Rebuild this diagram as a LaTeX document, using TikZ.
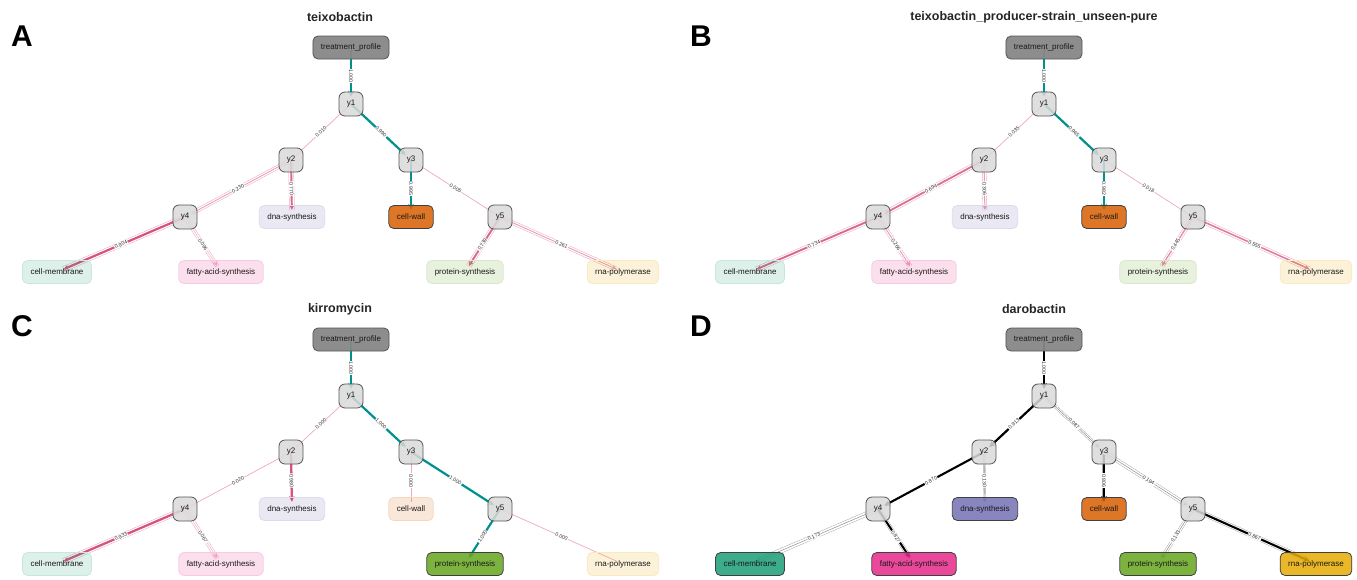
\documentclass[tikz,border=0pt]{standalone}
\usepackage{fontspec}
\setmainfont{Liberation Sans}
\usetikzlibrary{arrows.meta,backgrounds}

\definecolor{tpgray}{HTML}{878787}
\definecolor{ygray}{HTML}{DADADA}
\definecolor{rim}{HTML}{555555}
\definecolor{tealc}{HTML}{00918F}
\definecolor{rose}{HTML}{D0406F}
\definecolor{roselite}{HTML}{EFA9BE}
\definecolor{cmem}{HTML}{1B9E77}
\definecolor{cdna}{HTML}{7570B3}
\definecolor{cwal}{HTML}{D95F02}
\definecolor{cfas}{HTML}{E7298A}
\definecolor{cpro}{HTML}{66A61E}
\definecolor{crna}{HTML}{E6AB02}

\tikzset{
  txt/.style={font=\fontsize{8}{9}\selectfont, text=black!90},
  root/.style={txt, draw=rim, line width=0.8pt, fill=tpgray, fill opacity=0.95, text opacity=1,
    rounded corners=5pt, minimum height=23pt, inner xsep=8pt},
  hid/.style={txt, draw=rim, line width=0.8pt, fill=ygray, fill opacity=0.85, text opacity=1,
    rounded corners=6pt, minimum size=24pt, inner sep=0pt},
  leaf/.style={txt, draw=#1!25, line width=0.8pt, fill=#1, fill opacity=0.15, text opacity=1,
    rounded corners=5pt, minimum height=23pt, inner xsep=8pt},
  hit/.style={txt, draw=black!75, line width=0.8pt, fill=#1, fill opacity=0.85, text opacity=1,
    rounded corners=5pt, minimum height=23pt, inner xsep=8pt},
  ttl/.style={font=\bfseries\fontsize{12.5}{14}\selectfont, text=black!85},
  tag/.style={font=\bfseries\fontsize{30}{30}\selectfont},
  elab/.style={font=\fontsize{5.2}{6}\selectfont, fill=white, inner sep=0.6pt, sloped, midway, text=black!80},
  te/.style={draw=tealc, line width=2.2pt, -{Stealth[length=6pt,width=5.5pt]}, shorten >=7pt},
  lo/.style={draw=roselite, line width=0.7pt, shorten >=7pt},
  pe/.style 2 args={draw=rose!#2!white, line width=#1, -{Stealth[length=5pt,width=4.5pt]}, shorten >=7pt,
    preaction={draw=roselite, -, line width=0.5pt, double=white, double distance=#1+2.4pt}},
  pesolid/.style={draw=rose!90!white, line width=#1, -{Stealth[length=6pt,width=5.5pt]}, shorten >=7pt},
  bs/.style={draw=black, line width=#1, -{Stealth[length=6pt,width=5.5pt]}, shorten >=7pt},
  be/.style 2 args={draw=black, line width=#1, -{Stealth[length=6pt,width=5.5pt]}, shorten >=7pt,
    preaction={draw=black!35, -, line width=0.45pt, double=white, double distance=#2}},
  ge/.style={draw=black!45, line width=0.5pt, -{Stealth[length=4pt,width=3.5pt]}, shorten >=7pt,
    preaction={draw=black!35, -, line width=0.45pt, double=white, double distance=#1}},
}

\begin{document}
\begin{tikzpicture}[x=1pt, y=-1pt]
  \useasboundingbox (0,0) rectangle (1357,579);
  \begin{pgfonlayer}{background}
    \fill[white] (0,0) rectangle (1357,579);
  \end{pgfonlayer}

  % tags and titles
  \node[tag] (tagA) at (22,36)  {A};
  \node[tag] (tagB) at (701,36) {B};
  \node[tag] (tagC) at (22,326) {C};
  \node[tag] (tagD) at (701,326) {D};
  \node[ttl] (ttlA) at (340,17)   {teixobactin};
  \node[ttl] (ttlB) at (1034,17)  {teixobactin\_producer-strain\_unseen-pure};
  \node[ttl] (ttlC) at (340,309)  {kirromycin};
  \node[ttl] (ttlD) at (1034,309) {darobactin};

  % A
  \begin{scope}
    \node[root] (Atp) at (351,47.5) {treatment\_profile};
    \node[hid] (Ay1) at (351,104) {y1};
    \node[hid] (Ay2) at (291,160) {y2};
    \node[hid] (Ay3) at (411,160) {y3};
    \node[hid] (Ay4) at (185,217) {y4};
    \node[leaf=cdna] (Adna) at (292,217) {dna-synthesis};
    \node[hit=cwal] (Awal) at (411,217) {cell-wall};
    \node[hid] (Ay5) at (500,217) {y5};
    \node[leaf=cmem] (Amem) at (57,272)  {cell-membrane};
    \node[leaf=cfas] (Afas) at (221,272) {fatty-acid-synthesis};
    \node[leaf=cpro] (Apro) at (465,272) {protein-synthesis};
    \node[leaf=crna] (Arna) at (623,272) {rna-polymerase};
    \begin{pgfonlayer}{background}
      \path (Atp.center) edge[te] node[elab] {1.000} (Ay1.center);
      \path (Ay1.center) edge[lo] node[elab] {0.010} (Ay2.center);
      \path (Ay1.center) edge[te] node[elab] {0.990} (Ay3.center);
      \path (Ay2.center) edge[pe={0.85pt}{50}] node[elab] {0.230} (Ay4.center);
      \path (Ay2.center) edge[pe={1.95pt}{80}] node[elab] {0.770} (Adna.center);
      \path (Ay3.center) edge[te] node[elab] {0.995} (Awal.center);
      \path (Ay3.center) edge[lo] node[elab] {0.005} (Ay5.center);
      \path (Ay4.center) edge[pe={2.2pt}{90}] node[elab] {0.904} (Amem.center);
      \path (Ay4.center) edge[pe={0.6pt}{35}] node[elab] {0.096} (Afas.center);
      \path (Ay5.center) edge[pe={1.9pt}{80}] node[elab] {0.739} (Apro.center);
      \path (Ay5.center) edge[pe={0.9pt}{50}] node[elab] {0.261} (Arna.center);
    \end{pgfonlayer}
  \end{scope}

  % B
  \begin{scope}[shift={(693,0)}]
    \node[root] (Btp) at (351,47.5) {treatment\_profile};
    \node[hid] (By1) at (351,104) {y1};
    \node[hid] (By2) at (291,160) {y2};
    \node[hid] (By3) at (411,160) {y3};
    \node[hid] (By4) at (185,217) {y4};
    \node[leaf=cdna] (Bdna) at (292,217) {dna-synthesis};
    \node[hit=cwal] (Bwal) at (411,217) {cell-wall};
    \node[hid] (By5) at (500,217) {y5};
    \node[leaf=cmem] (Bmem) at (57,272)  {cell-membrane};
    \node[leaf=cfas] (Bfas) at (221,272) {fatty-acid-synthesis};
    \node[leaf=cpro] (Bpro) at (465,272) {protein-synthesis};
    \node[leaf=crna] (Brna) at (623,272) {rna-polymerase};
    \begin{pgfonlayer}{background}
      \path (Btp.center) edge[te] node[elab] {1.000} (By1.center);
      \path (By1.center) edge[lo] node[elab] {0.035} (By2.center);
      \path (By1.center) edge[te] node[elab] {0.965} (By3.center);
      \path (By2.center) edge[pe={1.8pt}{75}] node[elab] {0.694} (By4.center);
      \path (By2.center) edge[pe={1.0pt}{50}] node[elab] {0.306} (Bdna.center);
      \path (By3.center) edge[te] node[elab] {0.982} (Bwal.center);
      \path (By3.center) edge[lo] node[elab] {0.018} (By5.center);
      \path (By4.center) edge[pe={1.85pt}{80}] node[elab] {0.734} (Bmem.center);
      \path (By4.center) edge[pe={0.9pt}{50}] node[elab] {0.266} (Bfas.center);
      \path (By5.center) edge[pe={1.3pt}{60}] node[elab] {0.445} (Bpro.center);
      \path (By5.center) edge[pe={1.5pt}{70}] node[elab] {0.555} (Brna.center);
    \end{pgfonlayer}
  \end{scope}

  % C
  \begin{scope}[shift={(0,292)}]
    \node[root] (Ctp) at (351,47.5) {treatment\_profile};
    \node[hid] (Cy1) at (351,104) {y1};
    \node[hid] (Cy2) at (291,160) {y2};
    \node[hid] (Cy3) at (411,160) {y3};
    \node[hid] (Cy4) at (185,217) {y4};
    \node[leaf=cdna] (Cdna) at (292,217) {dna-synthesis};
    \node[leaf=cwal] (Cwal) at (411,217) {cell-wall};
    \node[hid] (Cy5) at (500,217) {y5};
    \node[leaf=cmem] (Cmem) at (57,272)  {cell-membrane};
    \node[leaf=cfas] (Cfas) at (221,272) {fatty-acid-synthesis};
    \node[hit=cpro] (Cpro) at (465,272) {protein-synthesis};
    \node[leaf=crna] (Crna) at (623,272) {rna-polymerase};
    \begin{pgfonlayer}{background}
      \path (Ctp.center) edge[te] node[elab] {1.000} (Cy1.center);
      \path (Cy1.center) edge[lo] node[elab] {0.000} (Cy2.center);
      \path (Cy1.center) edge[te] node[elab] {1.000} (Cy3.center);
      \path (Cy2.center) edge[lo] node[elab] {0.020} (Cy4.center);
      \path (Cy2.center) edge[pesolid=2.3pt] node[elab] {0.980} (Cdna.center);
      \path (Cy3.center) edge[lo] node[elab] {0.000} (Cwal.center);
      \path (Cy3.center) edge[te] node[elab] {1.000} (Cy5.center);
      \path (Cy4.center) edge[pe={2.25pt}{90}] node[elab] {0.933} (Cmem.center);
      \path (Cy4.center) edge[pe={0.55pt}{35}] node[elab] {0.067} (Cfas.center);
      \path (Cy5.center) edge[te] node[elab] {1.000} (Cpro.center);
      \path (Cy5.center) edge[lo] node[elab] {0.000} (Crna.center);
    \end{pgfonlayer}
  \end{scope}

  % D
  \begin{scope}[shift={(693,292)}]
    \node[root] (Dtp) at (351,47.5) {treatment\_profile};
    \node[hid] (Dy1) at (351,104) {y1};
    \node[hid] (Dy2) at (291,160) {y2};
    \node[hid] (Dy3) at (411,160) {y3};
    \node[hid] (Dy4) at (185,217) {y4};
    \node[hit=cdna] (Ddna) at (292,217) {dna-synthesis};
    \node[hit=cwal] (Dwal) at (411,217) {cell-wall};
    \node[hid] (Dy5) at (500,217) {y5};
    \node[hit=cmem] (Dmem) at (57,272)  {cell-membrane};
    \node[hit=cfas] (Dfas) at (221,272) {fatty-acid-synthesis};
    \node[hit=cpro] (Dpro) at (465,272) {protein-synthesis};
    \node[hit=crna] (Drna) at (623,272) {rna-polymerase};
    \begin{pgfonlayer}{background}
      \path (Dtp.center) edge[bs=2.3pt] node[elab] {1.000} (Dy1.center);
      \path (Dy1.center) edge[bs=2.2pt] node[elab] {0.913} (Dy2.center);
      \path (Dy1.center) edge[ge=2.5pt] node[elab] {0.087} (Dy3.center);
      \path (Dy2.center) edge[bs=2.1pt] node[elab] {0.870} (Dy4.center);
      \path (Dy2.center) edge[ge=1.5pt] node[elab] {0.130} (Ddna.center);
      \path (Dy3.center) edge[be={2.0pt}{3pt}] node[elab] {0.806} (Dwal.center);
      \path (Dy3.center) edge[ge=3.5pt] node[elab] {0.194} (Dy5.center);
      \path (Dy4.center) edge[ge=4pt] node[elab] {0.173} (Dmem.center);
      \path (Dy4.center) edge[be={2.05pt}{3.5pt}] node[elab] {0.827} (Dfas.center);
      \path (Dy5.center) edge[ge=3pt] node[elab] {0.133} (Dpro.center);
      \path (Dy5.center) edge[be={2.1pt}{4pt}] node[elab] {0.867} (Drna.center);
    \end{pgfonlayer}
  \end{scope}
\end{tikzpicture}
\end{document}
